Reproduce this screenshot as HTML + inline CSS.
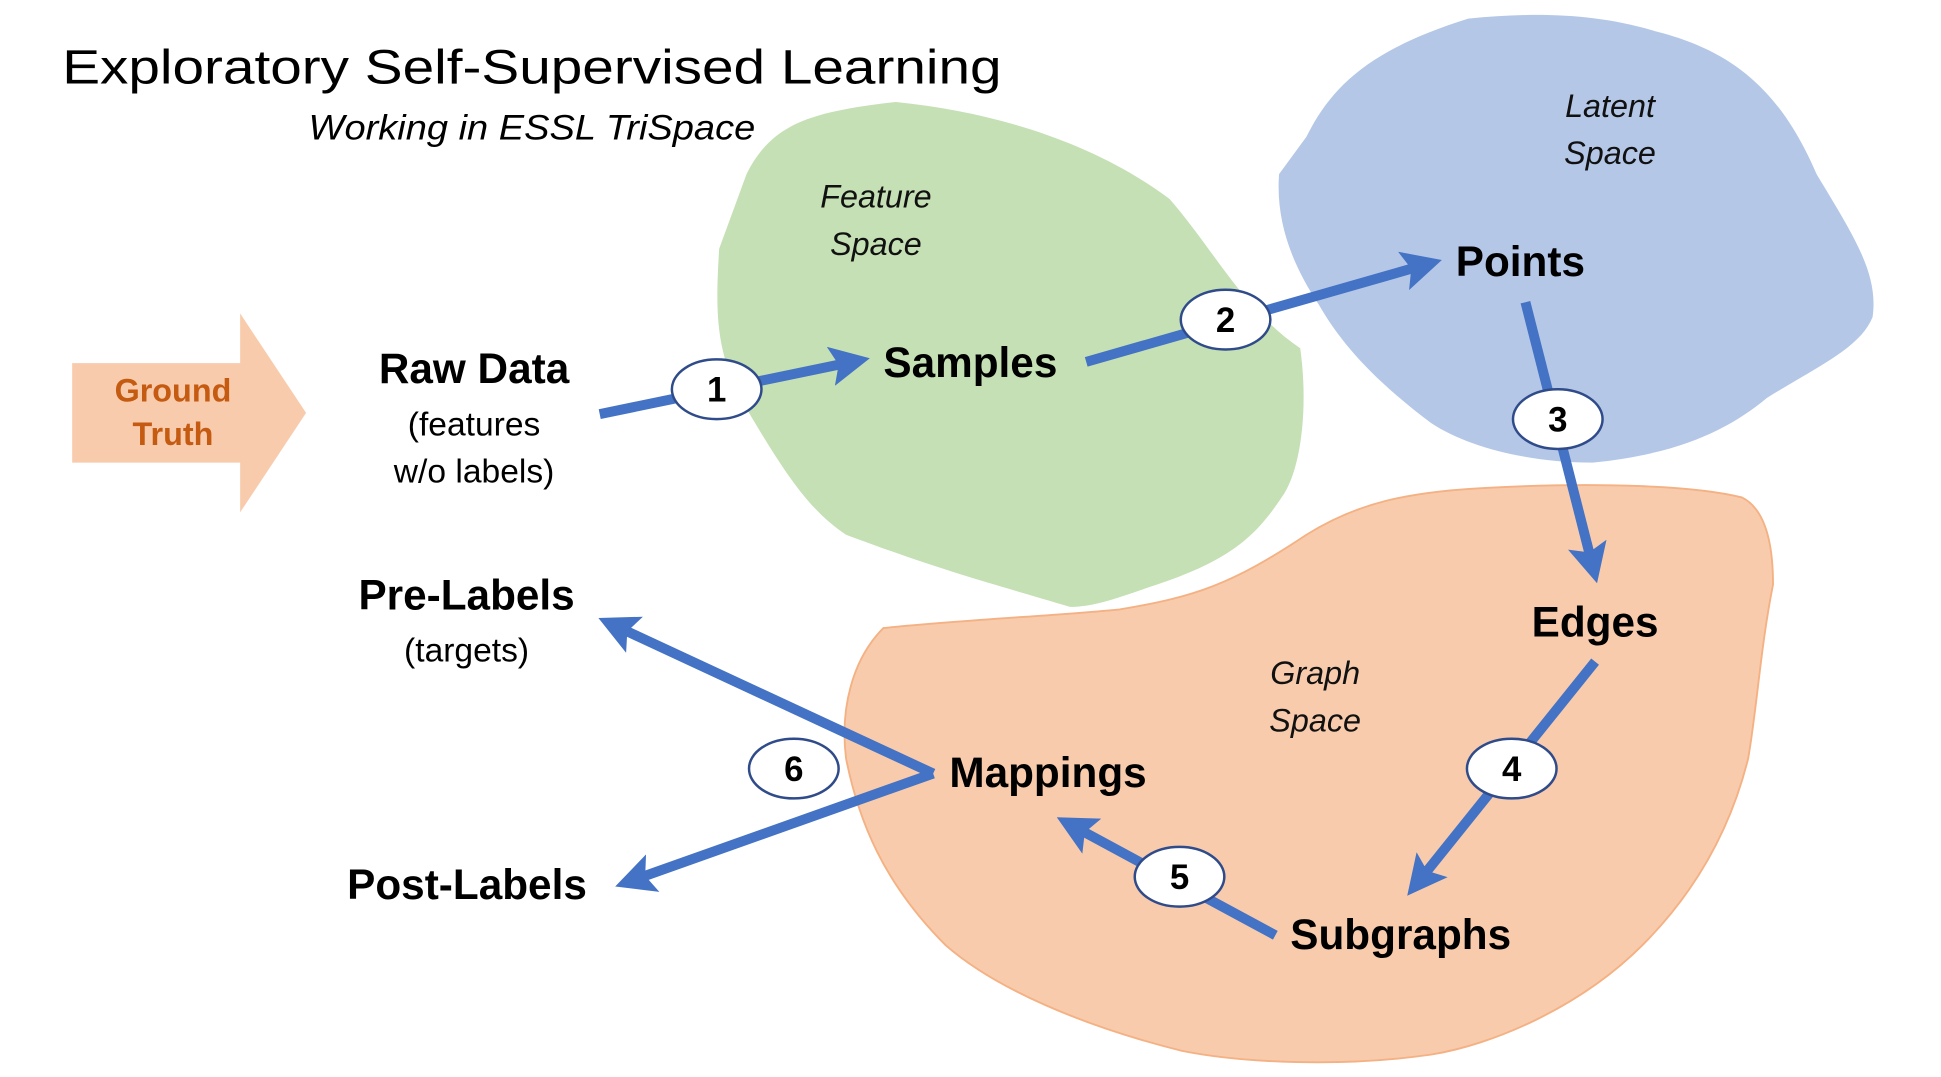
<!DOCTYPE html>
<html><head><meta charset="utf-8"><style>html,body{margin:0;padding:0;background:#fff;width:1941px;height:1077px;overflow:hidden}</style></head>
<body>
<svg width="1941" height="1077" viewBox="0 0 1560 866" preserveAspectRatio="none" xmlns="http://www.w3.org/2000/svg" font-family="Liberation Sans, sans-serif">
<defs>
<marker id="ah" markerWidth="4" markerHeight="4" refX="2.2" refY="2" orient="auto" markerUnits="strokeWidth">
<path d="M0,0 L4,2 L0,4 L0.8,2 Z" fill="#4472c4"/>
</marker>
</defs>
<path d="M600,140 C620,100 650,90 720,82 C800,90 880,115 940,160 C975,200 1000,250 1045,280 C1052,330 1045,380 1030,400 C1010,430 990,450 930,470 C900,480 880,488 860,488 C800,470 760,460 680,430 C650,410 630,380 595,320 C575,280 575,250 578,200 Z" fill="#c5e0b4"/>
<path d="M1050,110 C1070,70 1100,40 1180,15 C1230,10 1280,10 1330,25 C1390,40 1430,70 1460,140 C1490,190 1510,220 1505,255 C1495,280 1460,295 1420,320 C1390,345 1350,365 1280,372 C1230,372 1180,360 1150,340 C1110,310 1080,280 1060,245 C1040,215 1025,180 1028,140 Z" fill="#b4c7e7"/>
<path d="M710,505 C780,498 850,495 900,490 C960,480 990,470 1050,430 C1090,405 1130,395 1200,392 C1280,388 1360,390 1400,400 C1420,410 1425,440 1425,470 C1415,520 1412,570 1405,610 C1390,670 1360,720 1320,760 C1270,810 1200,840 1150,848 C1080,858 1000,855 950,845 C870,825 800,795 760,760 C710,710 690,660 680,610 C675,570 685,530 710,505 Z" fill="#f8cbad" stroke="#f4b183" stroke-width="1.5"/>
<text x="50" y="67" font-size="39" textLength="755" lengthAdjust="spacingAndGlyphs">Exploratory Self-Supervised Learning</text>
<text x="248" y="112" font-size="28" font-style="italic" textLength="359" lengthAdjust="spacingAndGlyphs">Working in ESSL TriSpace</text>
<path d="M58,292 L193,292 L193,252 L246,332 L193,412 L193,372 L58,372 Z" fill="#f8cbad"/>
<g font-weight="bold" fill="#c55a11" font-size="26" text-anchor="middle"><text x="139" y="323">Ground</text><text x="139" y="358">Truth</text></g>
<g font-style="italic" font-size="26" text-anchor="middle" fill="#111">
<text x="704" y="167">Feature</text><text x="704" y="205">Space</text>
<text x="1294" y="94">Latent</text><text x="1294" y="132">Space</text>
<text x="1057" y="550">Graph</text><text x="1057" y="588">Space</text>
</g>
<g font-weight="bold" font-size="34" fill="#000">
<text x="381" y="308" text-anchor="middle">Raw Data</text>
<text x="710" y="303">Samples</text>
<text x="1170" y="222">Points</text>
<text x="1282" y="512" text-anchor="middle">Edges</text>
<text x="1037" y="763">Subgraphs</text>
<text x="763" y="633">Mappings</text>
<text x="375" y="490" text-anchor="middle">Pre-Labels</text>
<text x="279" y="723">Post-Labels</text>
</g>
<g font-size="27" text-anchor="middle" fill="#000">
<text x="381" y="350">(features</text><text x="381" y="388">w/o labels)</text>
<text x="375" y="532">(targets)</text>
</g>
<g stroke="#4472c4" stroke-width="8" fill="none" marker-end="url(#ah)">
<line x1="482" y1="333" x2="685" y2="291"/>
<line x1="873" y1="291" x2="1145" y2="213"/>
<line x1="1226" y1="243" x2="1280" y2="455"/>
<line x1="1282" y1="532" x2="1140" y2="709"/>
<line x1="1025" y1="752" x2="862" y2="664"/>
<polyline points="750,622 494,503" />
<line x1="750" y1="622" x2="508" y2="708"/>
</g>
<g fill="#fff" stroke="#2f4b8a" stroke-width="2">
<ellipse cx="576" cy="313" rx="36" ry="24"/>
<ellipse cx="985" cy="257" rx="36" ry="24"/>
<ellipse cx="1252" cy="337" rx="36" ry="24"/>
<ellipse cx="1215" cy="618" rx="36" ry="24"/>
<ellipse cx="948" cy="705" rx="36" ry="24"/>
<ellipse cx="638" cy="618" rx="36" ry="24"/>
</g>
<g font-weight="bold" font-size="28" text-anchor="middle" fill="#000">
<text x="576" y="323">1</text><text x="985" y="267">2</text><text x="1252" y="347">3</text>
<text x="1215" y="628">4</text><text x="948" y="715">5</text><text x="638" y="628">6</text>
</g>
</svg>
</body></html>
